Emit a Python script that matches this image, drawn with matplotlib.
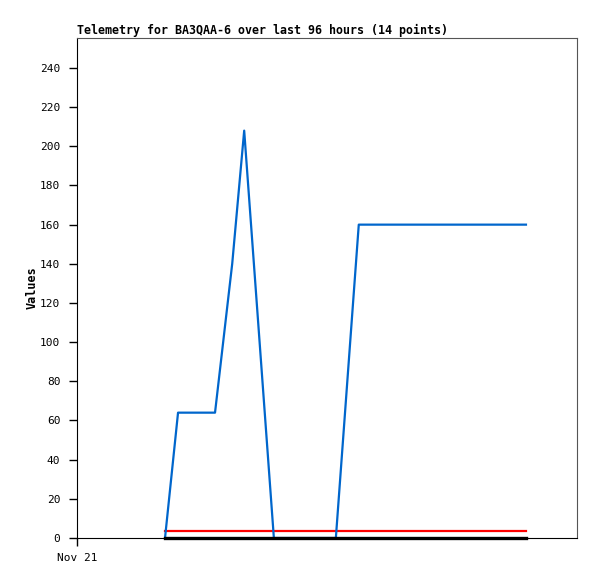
import matplotlib
matplotlib.use('Agg')
import matplotlib.pyplot as plt

# hours since the left edge of the window (Nov 21)
hours = [16.9, 19.4, 26.5, 29.8, 32.1, 37.8, 49.7, 54.1, 86.2]
blue_vals = [0, 64, 64, 140, 208, 0, 0, 160, 160]
flat_hours = [16.9, 86.2]
red_vals = [3.6, 3.6]
black_vals = [0, 0]

yticks = list(range(0, 241, 20))
xtick_pos = [0]
xtick_labels = ['Nov 21']

plt.rcParams['font.family'] = 'DejaVu Sans Mono'

fig = plt.figure(figsize=(5.97, 5.79), dpi=100)
ax = fig.add_axes([77 / 597, 1 - 538 / 579, 500 / 597, 500 / 579])

ax.plot(flat_hours, red_vals, color='#ff0000', lw=1.6, zorder=3)
ax.plot(hours, blue_vals, color='#0066cc', lw=1.6, zorder=4)
ax.plot(flat_hours, black_vals, color='black', lw=2.4, zorder=5, clip_on=False)

ax.set_xlim(0, 96)
ax.set_ylim(0, 255.3)
ax.set_yticks(yticks)
ax.set_xticks(xtick_pos)
ax.set_xticklabels(xtick_labels)
ax.tick_params(axis='both', direction='out', length=6, width=1, labelsize=8)
ax.tick_params(axis='y', pad=6)
ax.tick_params(axis='x', pad=5)

for side in ('top', 'right'):
    ax.spines[side].set_color('#555555')
for side in ('left', 'bottom'):
    ax.spines[side].set_color('black')

ax.set_ylabel('Values', fontsize=8.5, fontweight='bold', va='center')
ax.yaxis.set_label_coords(-0.09, 0.5)
ax.set_title('Telemetry for BA3QAA-6 over last 96 hours (14 points)',
             loc='left', fontsize=8.35, fontweight='bold', pad=3)

fig.savefig('out.png', dpi=100)
